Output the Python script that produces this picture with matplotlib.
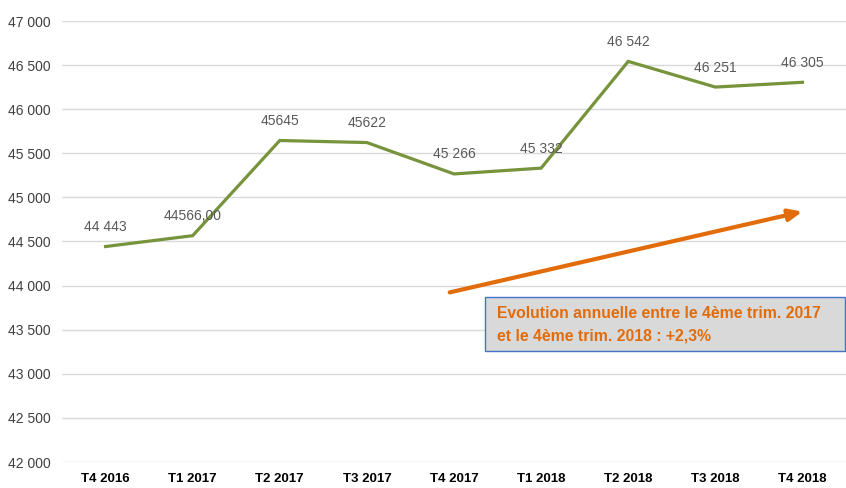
import matplotlib.pyplot as plt
from matplotlib.patches import Rectangle
from matplotlib.ticker import FuncFormatter

plt.rcParams['font.family'] = ['Liberation Sans', 'DejaVu Sans']

quarters = ["T4 2016", "T1 2017", "T2 2017", "T3 2017", "T4 2017",
            "T1 2018", "T2 2018", "T3 2018", "T4 2018"]
values = [44443, 44566, 45645, 45622, 45266, 45332, 46542, 46251, 46305]
labels = ["44 443", "44566,00", "45645", "45622", "45 266", "45 332",
          "46 542", "46 251", "46 305"]

fig = plt.figure(figsize=(8.46, 4.88), dpi=100)
ax = fig.add_axes([62 / 846, 26 / 488, 784 / 846, 441 / 488])

x = list(range(len(quarters)))
ax.plot(x, values, color="#77933c", linewidth=2.3, solid_joinstyle="miter")

for xi, v, lab in zip(x, values, labels):
    ax.annotate(lab, (xi, v), xytext=(0, 9), textcoords="offset points",
                ha="center", va="bottom", fontsize=10, color="#595959")

ax.set_xlim(-0.5, 8.5)
ax.set_ylim(42000, 47000)
ax.set_yticks(range(42000, 47001, 500))
ax.yaxis.set_major_formatter(FuncFormatter(lambda v, p: f"{int(v):,}".replace(",", " ")))
ax.set_xticks(x)
ax.set_xticklabels(quarters, fontweight="bold", fontsize=9.5)
ax.tick_params(axis="y", labelsize=10, labelcolor="#404040", length=0, pad=8)
ax.tick_params(axis="x", length=0, pad=8)
ax.grid(axis="y", color="#d9d9d9", linewidth=1)
ax.set_axisbelow(True)
for s in ax.spines.values():
    s.set_visible(False)

# annual trend arrow and note
ax.annotate("", xy=(8.03, 44846), xytext=(3.92, 43916),
            arrowprops=dict(arrowstyle="-|>,head_length=0.8,head_width=0.35",
                            color="#e36c0a", lw=3))
fig.patches.append(Rectangle((485 / 846, 1 - 351 / 488), 360 / 846, 54 / 488,
                             transform=fig.transFigure, facecolor="#d9d9d9",
                             edgecolor="#4472c4", lw=1))
fig.text(497 / 846, 1 - 325 / 488,
         "Evolution annuelle entre le 4ème trim. 2017\net le 4ème trim. 2018 : +2,3%",
         color="#e36c0a", fontsize=11.3, fontweight="bold", va="center", ha="left",
         linespacing=1.6)

fig.savefig("out.png", dpi=100)
